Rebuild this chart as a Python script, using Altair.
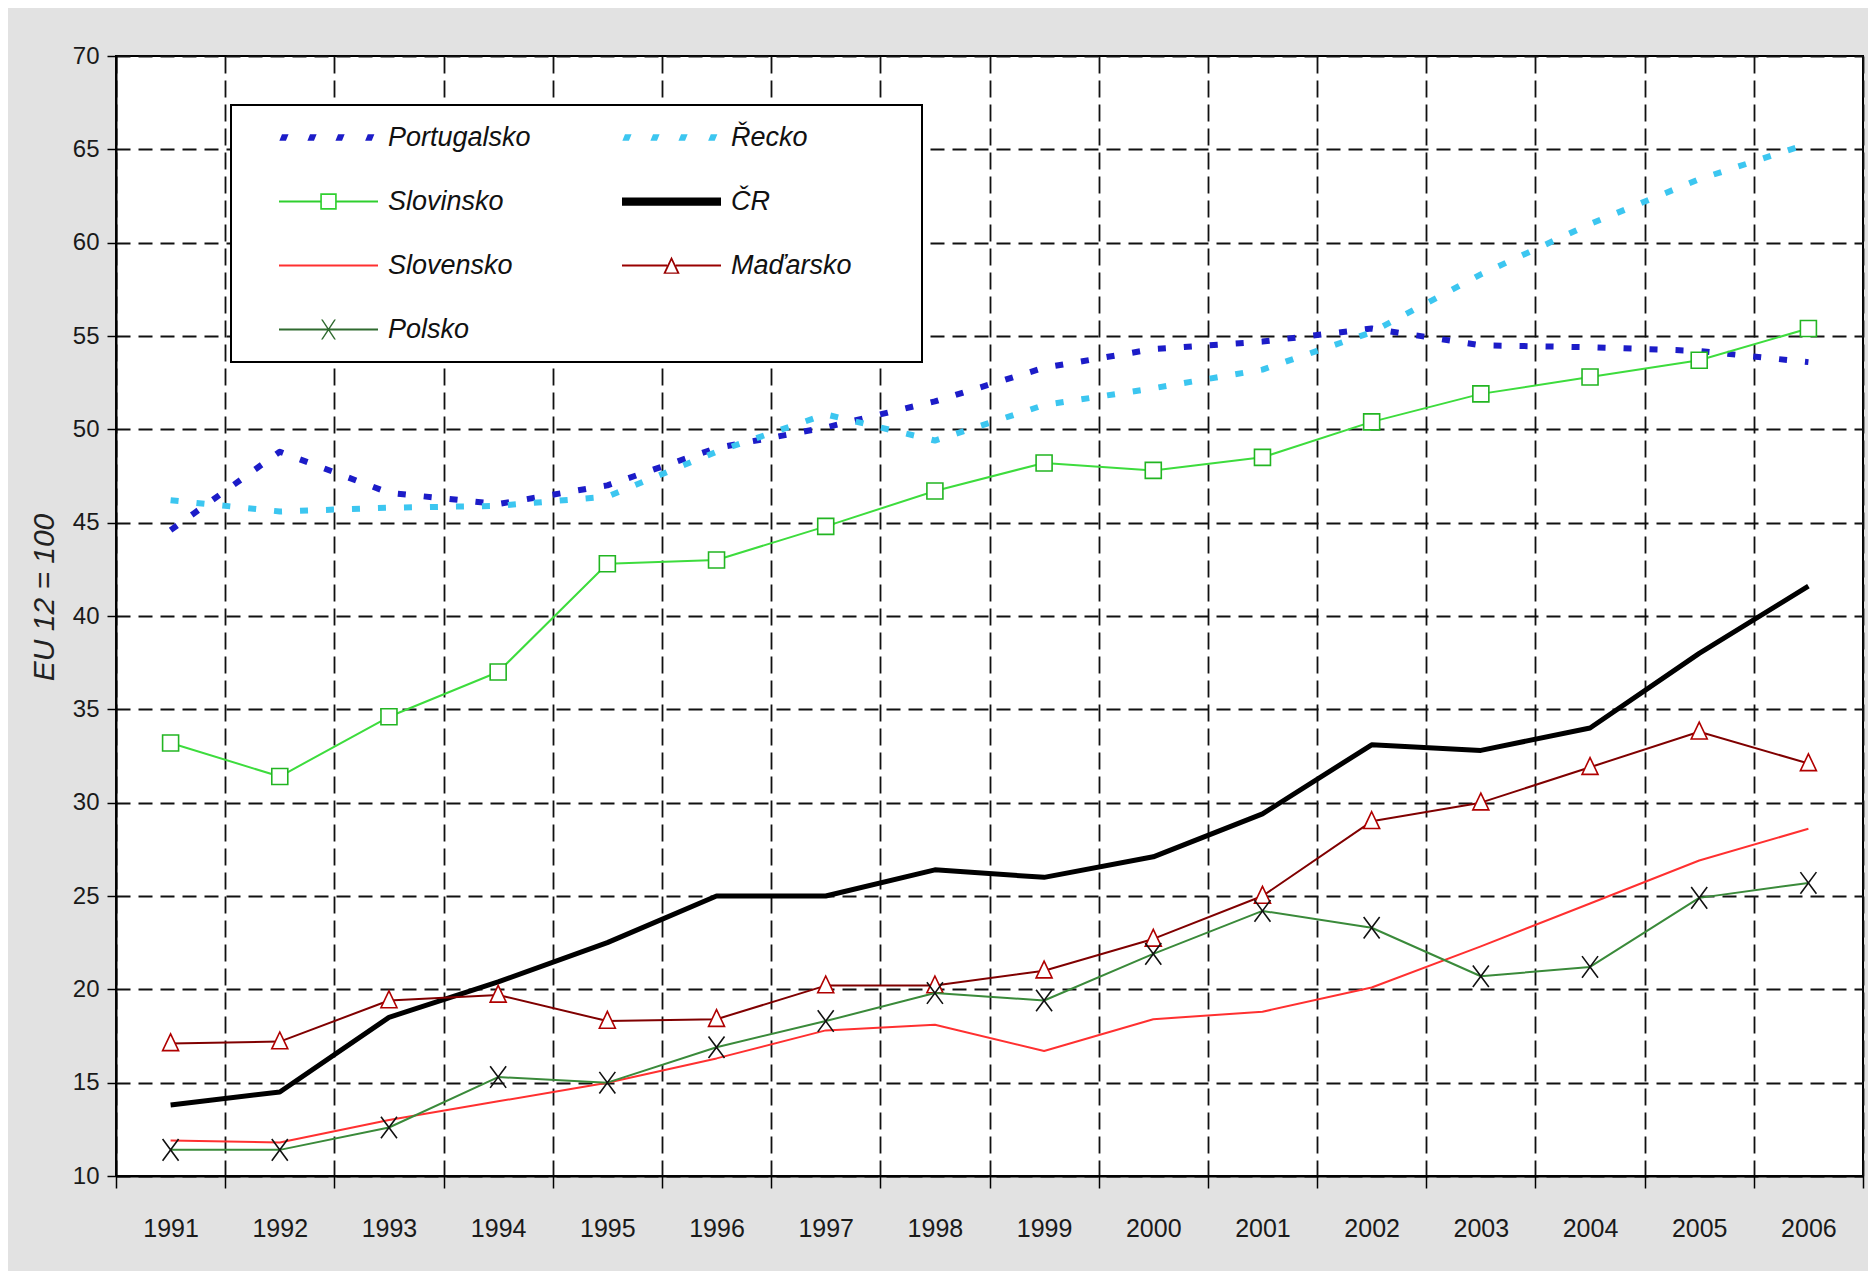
import altair as alt
import pandas as pd

# ---------------- data ----------------
years = list(range(1991, 2007))
series_names = ["Portugalsko", "Řecko", "Slovinsko", "ČR", "Slovensko", "Maďarsko", "Polsko"]

portugalsko = [44.6, 48.8, 46.6, 46.0, 47.0, 49.0, 50.1, 51.5, 53.3, 54.3, 54.7, 55.4, 54.5, 54.4, 54.2, 53.6]
recko = [46.2, 45.6, 45.8, 45.9, 46.4, 48.8, 50.8, 49.4, 51.3, 52.2, 53.2, 55.2, 58.3, 61.0, 63.4, 65.3]
slovinsko = [33.2, 31.4, 34.6, 37.0, 42.8, 43.0, 44.8, 46.7, 48.2, 47.8, 48.5, 50.4, 51.9, 52.8, 53.7, 55.4]
cr = [13.8, 14.5, 18.5, 20.4, 22.5, 25.0, 25.0, 26.4, 26.0, 27.1, 29.4, 33.1, 32.8, 34.0, 38.0, 41.6]
slovensko = [11.9, 11.8, 13.0, 14.0, 15.0, 16.3, 17.8, 18.1, 16.7, 18.4, 18.8, 20.1, 22.3, 24.6, 26.9, 28.6]
madarsko = [17.1, 17.2, 19.4, 19.7, 18.3, 18.4, 20.2, 20.2, 21.0, 22.7, 25.0, 29.0, 30.0, 31.9, 33.8, 32.1]
polsko = [11.4, 11.4, 12.6, 15.3, 15.0, 16.9, 18.3, 19.8, 19.4, 21.9, 24.2, 23.3, 20.7, 21.2, 24.9, 25.7]

y_ticks = list(range(10, 71, 5))
y_title = "EU 12 = 100"

values_by_series = {
    "Portugalsko": portugalsko, "Řecko": recko, "Slovinsko": slovinsko, "ČR": cr,
    "Slovensko": slovensko, "Maďarsko": madarsko, "Polsko": polsko,
}
rows = []
for name in series_names:
    for yr, v in zip(years, values_by_series[name]):
        rows.append({"series": name, "year": yr, "value": v})
df = pd.DataFrame(rows)

# ---------------- styles ----------------
FONT = "Liberation Sans, Arial, sans-serif"

styles = {
    "Portugalsko": dict(color="#1c1cc8", width=6, dash=[8, 18], marker=None),
    "Řecko": dict(color="#3cc6f0", width=6, dash=[8, 18], marker=None),
    "Slovinsko": dict(color="#3ddc3d", width=2, marker="square", mstroke="#22b522"),
    "ČR": dict(color="#000000", width=5, marker=None),
    "Slovensko": dict(color="#ff3030", width=2, marker=None),
    "Maďarsko": dict(color="#800000", width=2, marker="M0,-1.2L1,0.9L-1,0.9Z", mstroke="#b00000"),
    "Polsko": dict(color="#3a8a3a", width=2, marker="X", mstroke="#111111"),
}


def rect(x0, x1, y0, y1):
    return f"M{x0},{y0}H{x1}V{y1}H{x0}Z"


# invisible points that fix the bounds of every legend entry
EXT = "M-4.94,-1ZM-4.94,1ZM14.2,0Z"


def dots_path():
    p = EXT
    for c in [-2.7, -1.0, 0.7, 2.5]:
        p += (f"M{c-0.28:.2f},0.2L{c-0.12:.2f},-0.2L{c+0.28:.2f},-0.2L{c+0.12:.2f},0.2Z")
    return p


legend_paths = {
    "Portugalsko": dots_path(),
    "Řecko": dots_path(),
    "Slovinsko": EXT + rect(-3, -0.5, -0.06, 0.06) + rect(0.5, 3, -0.06, 0.06)
    + rect(-0.5, 0.5, -0.5, 0.5) + "M-0.4,-0.4V0.4H0.4V-0.4Z",
    "ČR": EXT + rect(-3, 3, -0.25, 0.25),
    "Slovensko": EXT + rect(-3, 3, -0.06, 0.06),
    "Maďarsko": EXT + rect(-3, -0.26, -0.06, 0.06) + rect(0.26, 3, -0.06, 0.06)
    + "M0,-0.55L0.5,0.5L-0.5,0.5Z" + "M0,-0.3L-0.34,0.42L0.34,0.42Z",
    "Polsko": EXT + rect(-3, 3, -0.06, 0.06)
    + "M-0.45,-0.6L-0.35,-0.6L0.45,0.6L0.35,0.6Z"
    + "M0.35,-0.6L0.45,-0.6L-0.35,0.6L-0.45,0.6Z",
}
legend_colors = {
    "Portugalsko": "#1c1cc8", "Řecko": "#3cc6f0", "Slovinsko": "#2fcf2f", "ČR": "#000000",
    "Slovensko": "#ff3030", "Maďarsko": "#990000", "Polsko": "#2f6a2f",
}

# ---------------- encodings ----------------
x_enc = alt.X(
    "year:O",
    scale=alt.Scale(type="band", paddingInner=0, paddingOuter=0),
    axis=alt.Axis(
        title=None, labelAngle=0, tickBand="extent", grid=True,
        gridColor="#111111", gridDash=[17, 7], gridWidth=1.8,
        domainColor="#000000", domainWidth=2, tickColor="#000000", tickWidth=1.5, tickSize=12,
        labelFont=FONT, labelFontSize=25, labelColor="#1a1a1a", labelPadding=28,
    ),
)
y_enc = alt.Y(
    "value:Q",
    scale=alt.Scale(domain=[10, 70], nice=False, zero=False),
    axis=alt.Axis(
        values=y_ticks, title=y_title, grid=True,
        gridColor="#111111", gridDash=[14, 8], gridWidth=1.8,
        domainColor="#000000", domainWidth=2, tickColor="#000000", tickWidth=1.5, tickSize=9,
        labelFont=FONT, labelFontSize=24, labelColor="#1a1a1a", labelPadding=8,
        titleFont=FONT, titleFontSize=30, titleFontStyle="italic", titleFontWeight="normal",
        titleColor="#222222", titleAngle=270, titleX=-72, titleY=541,
        titleAlign="center", titleBaseline="middle",
    ),
)

base = alt.Chart(df)
layers = []
for name in series_names:
    st = styles[name]
    sub = base.transform_filter(alt.datum.series == name)
    kw = dict(color=st["color"], strokeWidth=st["width"], strokeJoin="round")
    if "dash" in st:
        kw["strokeDash"] = st["dash"]
        kw["strokeCap"] = "butt"
    layers.append(sub.mark_line(**kw).encode(x=x_enc, y=y_enc))
    m = st["marker"]
    if m == "X":
        layers.append(sub.mark_point(
            shape="M-1,-1.35L1,1.35M-1,1.35L1,-1.35", size=256, filled=False,
            stroke=st["mstroke"], strokeWidth=1.6, opacity=1).encode(x=x_enc, y=y_enc))
    elif m is not None:
        layers.append(sub.mark_point(
            shape=m, size=256, filled=True, fill="white", stroke=st["mstroke"],
            strokeWidth=1.6, opacity=1).encode(x=x_enc, y=y_enc))

leg = alt.Legend(
    title=None, orient="none", legendX=115, legendY=49, columns=2, direction="horizontal",
    gridAlign="all", columnPadding=26, rowPadding=31, padding=16,
    fillColor="white", strokeColor="#000000",
    symbolSize=1089, symbolStrokeWidth=0, symbolOffset=65, symbolOpacity=1, labelOffset=43,
    labelFont=FONT, labelFontSize=27, labelFontStyle="italic", labelColor="#111111",
    labelLimit=400,
)
legend_layer = base.transform_filter("false").mark_point(filled=True, strokeWidth=0, size=1089).encode(
    x=x_enc, y=y_enc,
    color=alt.Color("series:N", scale=alt.Scale(domain=series_names,
                                                range=[legend_colors[n] for n in series_names]), legend=leg),
    shape=alt.Shape("series:N", scale=alt.Scale(domain=series_names,
                                                range=[legend_paths[n] for n in series_names]), legend=leg),
)
layers.append(legend_layer)

chart = alt.layer(*layers).properties(
    width=1747, height=1120,
    autosize=alt.AutoSizeParams(type="none"),
    padding={"left": 108, "top": 48, "right": 5, "bottom": 95},
    background="#e2e2e2",
).configure_view(stroke="#000000", strokeWidth=2, fill="white").configure_legend(strokeWidth=2)

chart.save("out.html", embed_options={"renderer": "svg", "actions": False})
